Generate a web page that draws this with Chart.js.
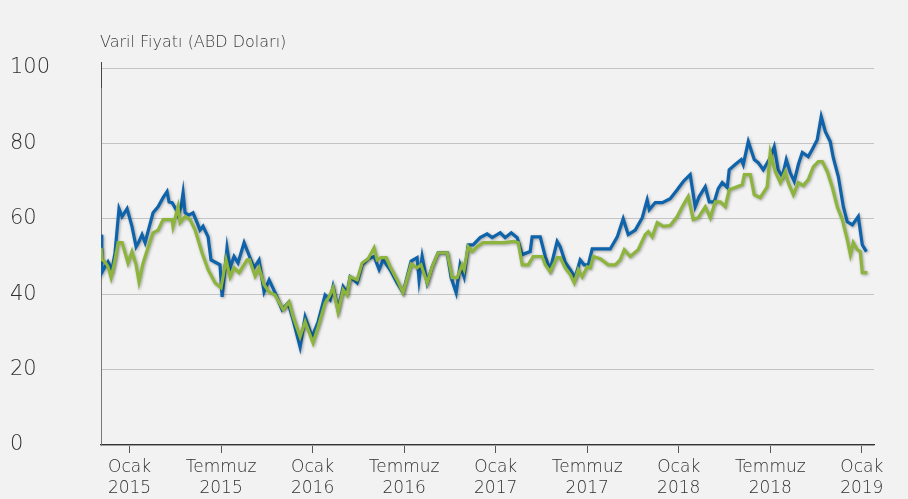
<!DOCTYPE html>
<html>
<head>
<meta charset="utf-8">
<script src="https://cdn.jsdelivr.net/npm/chart.js@4.4.0/dist/chart.umd.min.js"></script>
<style>
  html, body { margin: 0; padding: 0; background: #f2f2f2; }
  #wrap { width: 908px; height: 499px; position: relative; }
</style>
</head>
<body>
<div id="wrap"><canvas id="oilChart"></canvas></div>
<script>
// months since Ocak 2015 (x) and price per barrel in USD (y)
const brentMonths = [-1.87,-1.82,-1.61,-1.41,-1.15,-0.95,-0.69,-0.49,-0.16,0.16,0.43,0.62,0.82,1.02,1.21,1.54,1.87,2.20,2.46,2.59,2.79,3.05,3.18,3.38,3.51,3.64,3.90,4.16,4.43,4.62,4.82,5.15,5.34,5.93,6.07,6.39,6.59,6.85,7.11,7.51,7.77,8.16,8.49,8.82,9.15,9.54,10.00,10.39,10.72,11.18,11.51,11.97,12.36,12.82,13.15,13.34,13.67,14.00,14.26,14.46,14.92,15.25,15.64,16.03,16.36,16.62,17.08,17.54,17.93,18.46,18.85,18.98,19.18,19.51,19.84,20.23,20.82,21.08,21.41,21.67,21.93,22.20,22.52,22.98,23.44,23.77,24.30,24.62,25.02,25.41,25.74,26.26,26.39,26.92,27.25,27.57,28.03,28.23,28.56,28.89,29.21,29.54,29.80,30.07,30.33,31.51,31.97,32.36,32.69,33.15,33.61,33.93,34.07,34.46,34.92,35.44,35.90,36.30,36.75,37.08,37.34,37.74,38.00,38.33,38.59,38.85,39.18,39.31,39.70,40.10,40.23,40.56,40.95,41.21,41.54,41.74,42.00,42.26,42.52,42.79,43.05,43.31,43.57,43.84,44.10,44.49,44.75,45.08,45.34,45.61,45.93,46.13,46.46,46.79,47.05,47.38,47.77,48.03,48.30];
const brentPrices = [55.8,45.7,47.3,48.6,46.5,51,62.7,60.6,62.7,58,52.6,54,55.8,53.7,56.6,61.6,63.2,65.6,67.2,64.5,64.3,62.4,61,63.2,66.9,61.6,61,61.6,59,57,58,55.2,49.1,47.8,39.3,52.3,47,50,48.3,53.7,51,47,49.1,40.6,43.8,40.4,35.9,37.7,33.2,26,34,28.7,32.7,39.8,38.5,42,35.9,42,40.4,44.6,43,47.8,49.4,50,46.5,49.1,46.5,43,40.4,48.8,49.7,43.8,50,43,47.3,51,51,44.4,40.4,47.8,44.6,53.1,53.1,55,56,55,56.3,55,56.3,55,50.5,51.3,55.2,55.2,50,46.5,54,52.6,48.5,46.5,44.4,49.1,47.8,47.8,52,52,55.2,60,55.8,57,60.3,65,62.4,64.3,64.3,65.3,67.7,69.9,71.7,63.2,65.9,68.5,64.5,64.5,68,69.6,68.3,73,74.4,75.7,74.4,80.5,75.7,74.9,73,74.4,76.2,79.1,73,71.2,75.7,72.2,69.9,74.4,77.6,76.5,78.4,81,87.1,83.1,80.5,76.2,71.2,63.2,59.2,58.4,60.6,53.1,51.3];

const wtiMonths = [-1.87,-1.80,-1.61,-1.41,-1.21,-0.95,-0.75,-0.49,-0.10,0.16,0.43,0.62,0.89,1.21,1.54,1.87,2.20,2.79,2.85,3.18,3.31,3.64,3.97,4.30,4.75,5.15,5.61,6.00,6.33,6.59,6.85,7.18,7.70,7.87,8.23,8.49,8.82,9.15,9.54,10.07,10.46,10.72,11.18,11.51,12.03,12.36,12.82,13.08,13.34,13.67,14.00,14.26,14.46,14.92,15.25,15.64,16.03,16.23,16.49,16.82,17.08,17.54,17.93,18.46,18.85,19.11,19.51,19.84,20.23,20.82,21.15,21.48,21.80,21.93,22.20,22.46,22.79,23.18,23.97,24.62,25.15,25.48,25.74,26.13,26.46,27.05,27.25,27.57,28.03,28.23,28.56,28.89,29.15,29.41,29.67,30.00,30.20,30.39,30.85,31.38,31.84,32.16,32.43,32.82,33.34,33.80,34.00,34.26,34.59,34.98,35.44,35.90,36.30,36.62,36.95,37.28,37.74,38.07,38.39,38.72,39.05,39.31,39.70,40.16,40.30,40.69,40.95,41.34,41.80,42.00,42.33,42.66,42.98,43.18,43.51,43.84,44.16,44.49,44.82,45.15,45.41,45.74,46.07,46.39,46.72,47.05,47.25,47.44,47.70,47.90,48.03,48.36];
const wtiPrices = [52.3,49.1,48.6,47.3,44.4,49.1,53.7,53.7,48.3,51.3,47.8,43.3,48.3,52.3,56.3,57,59.8,59.8,58,63.2,59,60.6,59.8,57,51,46.5,43,41.7,49.1,44.6,47,45.7,49.1,49.1,44.8,47,42.5,40.6,39.8,35.9,38,34,28.7,32.7,27.1,31.3,37.7,39.3,41.7,35.3,41.2,39.8,44.6,43.8,48.3,49.4,52.3,49.1,49.7,49.7,47.3,43.8,40.4,48,47,47.8,43,47.3,51,51,44.4,44.4,47.8,46.5,52.6,51.3,52.6,53.7,53.7,53.7,54,53.7,47.8,47.8,50,50,47.8,46,49.7,49.7,47,45.2,43,46.5,44.6,47.3,47,50,49.4,47.8,47.8,49.1,51.8,50,51.8,55.8,56.6,55.2,59,58,58.2,60.6,63.7,65.9,59.8,60.3,63.2,60.3,64.5,64.5,63.2,67.7,68.3,69,71.7,71.7,66.4,65.6,68.5,77.6,72.5,69.6,72.5,69.6,66.4,69.6,68.8,70.4,73.8,75.2,75.2,72.5,68.3,63.2,59.8,54.4,50.5,53.7,51.8,51.3,45.7,45.7];

const tickMonths = [0, 6, 12, 18, 24, 30, 36, 42, 48];
const tickLabels = [["Ocak","2015"],["Temmuz","2015"],["Ocak","2016"],["Temmuz","2016"],["Ocak","2017"],["Temmuz","2017"],["Ocak","2018"],["Temmuz","2018"],["Ocak","2019"]];
const yTicks = [0, 20, 40, 60, 80, 100];
const axisTitle = "Varil Fiyatı (ABD Doları)";

const textColor = "#2f2f2f";
const fontFamily = "'DejaVu Sans', sans-serif";

function toPoints(xs, ys) {
  return xs.map((x, i) => ({ x: x, y: ys[i] }));
}

// soft shadow under the lines, like the printed chart
const lineShadow = {
  id: "lineShadow",
  beforeDatasetDraw(chart) {
    const ctx = chart.ctx;
    ctx.save();
    ctx.shadowColor = "rgba(0,0,0,0.35)";
    ctx.shadowBlur = 3;
    ctx.shadowOffsetX = 1;
    ctx.shadowOffsetY = 1;
  },
  afterDatasetDraw(chart) {
    chart.ctx.restore();
  }
};

// unit label above the y axis, plus the bit of axis line that sticks out over 100
const unitLabel = {
  id: "unitLabel",
  afterDraw(chart) {
    const ctx = chart.ctx;
    const left = chart.chartArea.left;
    ctx.save();
    ctx.strokeStyle = "#444";
    ctx.lineWidth = 1;
    ctx.beginPath();
    ctx.moveTo(left + 0.5, chart.chartArea.top - 6);
    ctx.lineTo(left + 0.5, chart.chartArea.top + 20);
    ctx.stroke();
    ctx.font = "300 16px " + fontFamily;
    ctx.fillStyle = "#3a3a3a";
    ctx.textBaseline = "alphabetic";
    ctx.fillText(axisTitle, left - 1, 47);
    ctx.restore();
  }
};

const ctx = document.getElementById("oilChart").getContext("2d");
new Chart(ctx, {
  type: "line",
  data: {
    datasets: [
      {
        label: "WTI",
        data: toPoints(wtiMonths, wtiPrices),
        borderColor: "#8db43c",
        borderWidth: 3.2,
        pointRadius: 0,
        tension: 0,
        fill: false
      },
      {
        label: "Brent",
        data: toPoints(brentMonths, brentPrices),
        borderColor: "#0e63aa",
        borderWidth: 3.2,
        pointRadius: 0,
        tension: 0,
        fill: false
      }
    ]
  },
  options: {
    responsive: true,
    maintainAspectRatio: false,
    animation: false,
    layout: { padding: { left: 10, right: 34, top: 68, bottom: 0 } },
    plugins: {
      legend: { display: false },
      tooltip: { enabled: false },
      title: { display: false }
    },
    scales: {
      x: {
        type: "linear",
        min: -1.87,
        max: 48.8,
        afterBuildTicks(scale) {
          scale.ticks = tickMonths.map(v => ({ value: v }));
        },
        afterFit(scale) { scale.height = 54; },
        ticks: {
          autoSkip: false,
          maxRotation: 0,
          padding: 4,
          color: textColor,
          font: { family: fontFamily, size: 17, weight: 300, lineHeight: 1.25 },
          callback: (v) => tickLabels[tickMonths.indexOf(v)]
        },
        grid: { drawOnChartArea: false, drawTicks: true, tickLength: 8, color: "#555" },
        border: { display: true, color: "#333", width: 1.2 }
      },
      y: {
        min: 0,
        max: 100,
        afterBuildTicks(scale) {
          scale.ticks = yTicks.map(v => ({ value: v }));
        },
        afterFit(scale) { scale.width = 91; },
        ticks: {
          crossAlign: "far",
          padding: 0,
          color: textColor,
          font: { family: fontFamily, size: 21, weight: 200 }
        },
        grid: { drawTicks: false, color: "#c4c4c4", lineWidth: 1 },
        border: { display: true, color: "#777", width: 1 }
      }
    }
  },
  plugins: [lineShadow, unitLabel]
});
</script>
</body>
</html>
